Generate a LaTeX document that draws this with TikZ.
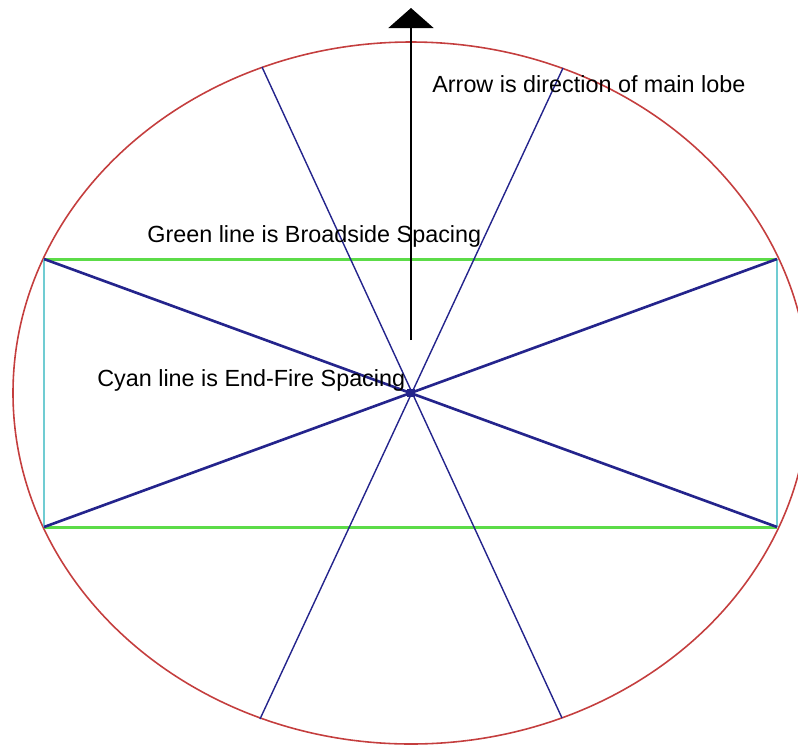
\documentclass[tikz,border=0pt]{standalone}
\usepackage{fontspec}
\setmainfont{Liberation Sans}
\usepackage{xcolor}
\usetikzlibrary{positioning, arrows.meta}

\definecolor{rimred}{RGB}{196,62,62}
\definecolor{spokeblue}{RGB}{36,36,140}
\definecolor{broadgreen}{RGB}{92,220,72}
\definecolor{endcyan}{RGB}{112,204,210}

\begin{document}
\begin{tikzpicture}[
    x=0.02cm, y=-0.02cm,
    rim/.style={draw=rimred, line width=0.9pt},
    spoke/.style={draw=spokeblue, line width=0.8pt},
    diag/.style={draw=spokeblue, line width=1.5pt},
    broad/.style={draw=broadgreen, line width=1.7pt},
    endfire/.style={draw=endcyan, line width=0.9pt},
    lbl/.style={font=\fontsize{13.3}{15}\selectfont, inner sep=0pt, anchor=base west},
    arr/.style={-{Triangle[length=0.4cm, width=0.9cm]}, line width=1pt, black}]
    \useasboundingbox (0,0) rectangle (798,745);
    % array centre and element positions
    \coordinate (ctr) at (411,393);
    \coordinate (tl) at (44,259);
    \coordinate (tr) at (777,259);
    \coordinate (bl) at (44,527);
    \coordinate (br) at (777,527);
    \coordinate (ntl) at (262,67);
    \coordinate (ntr) at (563,68);
    \coordinate (nbl) at (260,719);
    \coordinate (nbr) at (562,718);
    \draw[rim] (ctr) ellipse [x radius=398, y radius=351];
    \draw[endfire] (tl) -- (bl);
    \draw[endfire] (tr) -- (br);
    \draw[broad] (tl) -- (tr);
    \draw[broad] (bl) -- (br);
    \draw[spoke] (ntl) -- (nbr);
    \draw[spoke] (ntr) -- (nbl);
    \draw[diag] (tl) -- (br);
    \draw[diag] (tr) -- (bl);
    \node[fill=spokeblue, minimum size=5pt, inner sep=0pt] (hub) at (ctr) {};
    % main lobe
    \coordinate (lobe) at (411,340);
    \coordinate (tip) at (411,8);
    \draw[arr] (lobe) -- (tip);
    \node[lbl] (lobetxt) at (432,92) {Arrow is direction of main lobe};
    \node[lbl] (broadtxt) at (147,242) {Green line is Broadside Spacing};
    \node[lbl] (endtxt) at (97,386) {Cyan line is End-Fire Spacing};
  \end{tikzpicture}
\end{document}
